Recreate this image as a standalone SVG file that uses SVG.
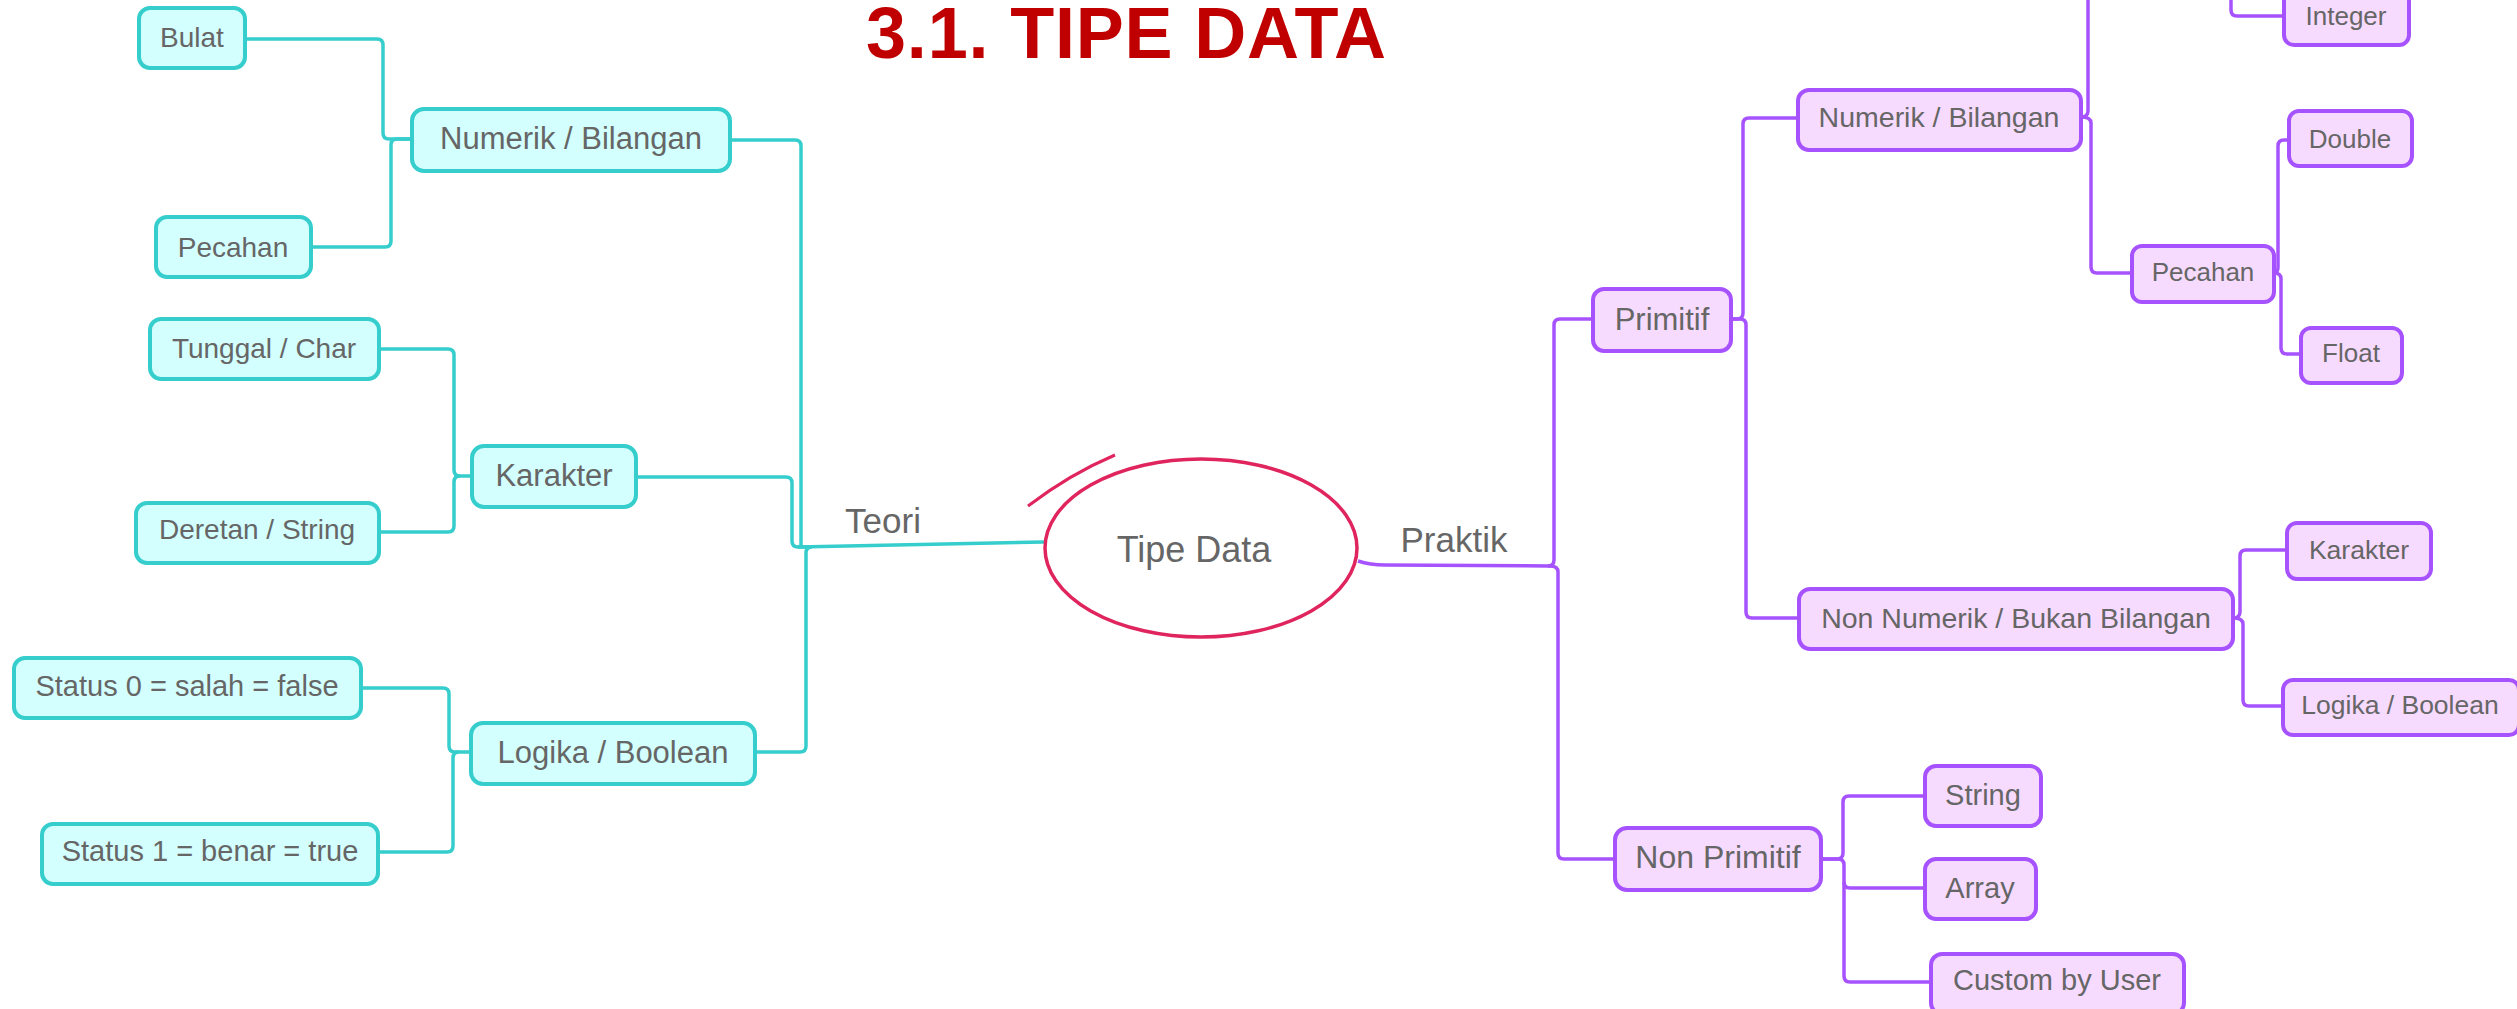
<svg xmlns="http://www.w3.org/2000/svg" width="2517" height="1009" viewBox="0 0 2517 1009">
<style>
.t rect{fill:#d3fffe;stroke:#36cdcd;stroke-width:4}
.p rect{fill:#f7dbff;stroke:#a653ff;stroke-width:4}
text{font-family:"Liberation Sans",Arial,sans-serif;fill:#666;text-anchor:middle}
.ct{fill:none;stroke:#36cdcd;stroke-width:3.5;stroke-linejoin:round}
.cp{fill:none;stroke:#a653ff;stroke-width:3.5;stroke-linejoin:round}
</style>
<rect width="2517" height="1009" fill="#fff"/>
<text x="866" y="58" font-size="72" font-weight="bold" style="fill:#c00000;text-anchor:start" textLength="520" lengthAdjust="spacing">3.1. TIPE DATA</text>

<g id="connectors">
<path class="ct" d="M245,39 H377 Q383,39 383,45 V133 Q383,139 389,139 H412"/>
<path class="ct" d="M311,247 H385 Q391,247 391,241 V145 Q391,139 397,139 H412"/>
<path class="ct" d="M730,140 H795 Q801,140 801,146 V547"/>
<path class="ct" d="M379,349 H448 Q454,349 454,355 V470 Q454,476 460,476 H472"/>
<path class="ct" d="M379,532 H448 Q454,532 454,526 V482 Q454,476 460,476"/>
<path class="ct" d="M636,477 H786 Q792,477 792,483 V541 Q792,547 798,547 H810"/>
<path class="ct" d="M361,688 H443 Q449,688 449,694 V746 Q449,752 455,752 H471"/>
<path class="ct" d="M378,852 H447 Q453,852 453,846 V758 Q453,752 459,752"/>
<path class="ct" d="M755,752 H800 Q806,752 806,746 V553 Q806,547 812,547"/>
<path class="ct" d="M798,547 L1044,542"/>

<path class="cp" d="M1358,561 Q1370,565 1385,565 L1550,566"/>
<path class="cp" d="M1548,566 Q1554,566 1554,560 V325 Q1554,319 1560,319 H1593"/>
<path class="cp" d="M1550,566 Q1558,566 1558,572 V853 Q1558,859 1564,859 H1615"/>
<path class="cp" d="M1731,319 H1737 Q1743,319 1743,313 V124 Q1743,118 1749,118 H1798"/>
<path class="cp" d="M1731,319 H1740 Q1746,319 1746,325 V612 Q1746,618 1752,618 H1799"/>
<path class="cp" d="M2081,117 Q2088,117 2088,111 V-5"/>
<path class="cp" d="M2081,117 Q2091,117 2091,123 V267 Q2091,273 2097,273 H2132"/>
<path class="cp" d="M2231,-5 V10 Q2231,16 2237,16 H2284"/>
<path class="cp" d="M2274,273 Q2278,273 2278,267 V146 Q2278,140 2284,140 H2289"/>
<path class="cp" d="M2274,273 Q2281,273 2281,279 V348 Q2281,354 2287,354 H2301"/>
<path class="cp" d="M2233,618 Q2240,618 2240,612 V556 Q2240,550 2246,550 H2287"/>
<path class="cp" d="M2233,618 Q2243,618 2243,624 V700 Q2243,706 2249,706 H2283"/>
<path class="cp" d="M1821,859 H1837 Q1843,859 1843,853 V802 Q1843,796 1849,796 H1925"/>
<path class="cp" d="M1821,859 H1838 Q1844,859 1844,865 V976 Q1844,982 1850,982 H1931"/>
<path class="cp" d="M1844,882 Q1844,888 1850,888 H1925"/>
</g>

<g id="root">
<ellipse cx="1201" cy="548" rx="156" ry="89" fill="none" stroke="#e0245e" stroke-width="3.5"/>
<path d="M1028,506 Q1070,474 1115,455" fill="none" stroke="#e0245e" stroke-width="3"/>
<text x="1194" y="562" font-size="36">Tipe Data</text>
</g>
<text id="lbl-teori" x="883" y="533" font-size="35">Teori</text>
<text id="lbl-praktik" x="1454" y="552" font-size="35">Praktik</text>

<g id="t-bulat" class="t"><rect x="139" y="8" width="106" height="60" rx="11"/><text x="192" y="47" font-size="28">Bulat</text></g>
<g id="t-pecahan" class="t"><rect x="156" y="217" width="155" height="60" rx="11"/><text x="233" y="257" font-size="28">Pecahan</text></g>
<g id="t-numerik" class="t"><rect x="412" y="109" width="318" height="62" rx="12"/><text x="571" y="149" font-size="31">Numerik / Bilangan</text></g>
<g id="t-tunggal" class="t"><rect x="150" y="319" width="229" height="60" rx="11"/><text x="264" y="358" font-size="28">Tunggal / Char</text></g>
<g id="t-deretan" class="t"><rect x="136" y="503" width="243" height="60" rx="11"/><text x="257" y="539" font-size="28">Deretan / String</text></g>
<g id="t-karakter" class="t"><rect x="472" y="446" width="164" height="61" rx="12"/><text x="554" y="486" font-size="31">Karakter</text></g>
<g id="t-status0" class="t"><rect x="14" y="658" width="347" height="60" rx="11"/><text x="187" y="696" font-size="29">Status 0 = salah = false</text></g>
<g id="t-logika" class="t"><rect x="471" y="723" width="284" height="61" rx="12"/><text x="613" y="763" font-size="31">Logika / Boolean</text></g>
<g id="t-status1" class="t"><rect x="42" y="824" width="336" height="60" rx="11"/><text x="210" y="861" font-size="29">Status 1 = benar = true</text></g>

<g id="p-integer" class="p"><rect x="2284" y="-12" width="125" height="57" rx="10"/><text x="2346" y="25" font-size="26">Integer</text></g>
<g id="p-numerik" class="p"><rect x="1798" y="90" width="283" height="60" rx="11"/><text x="1939" y="127" font-size="28.5">Numerik / Bilangan</text></g>
<g id="p-double" class="p"><rect x="2289" y="111" width="123" height="55" rx="10"/><text x="2350" y="148" font-size="26">Double</text></g>
<g id="p-pecahan" class="p"><rect x="2132" y="246" width="142" height="56" rx="10"/><text x="2203" y="281" font-size="26">Pecahan</text></g>
<g id="p-primitif" class="p"><rect x="1593" y="289" width="138" height="62" rx="11"/><text x="1662" y="330" font-size="31">Primitif</text></g>
<g id="p-float" class="p"><rect x="2301" y="328" width="101" height="55" rx="10"/><text x="2351" y="362" font-size="26">Float</text></g>
<g id="p-karakter" class="p"><rect x="2287" y="523" width="144" height="56" rx="10"/><text x="2359" y="559" font-size="26.5">Karakter</text></g>
<g id="p-nonnumerik" class="p"><rect x="1799" y="589" width="434" height="60" rx="11"/><text x="2016" y="628" font-size="28.5">Non Numerik / Bukan Bilangan</text></g>
<g id="p-logika" class="p"><rect x="2283" y="680" width="236" height="55" rx="10"/><text x="2400" y="714" font-size="26.5">Logika / Boolean</text></g>
<g id="p-string" class="p"><rect x="1925" y="766" width="116" height="60" rx="11"/><text x="1983" y="805" font-size="29">String</text></g>
<g id="p-nonprimitif" class="p"><rect x="1615" y="828" width="206" height="62" rx="12"/><text x="1718" y="868" font-size="32">Non Primitif</text></g>
<g id="p-array" class="p"><rect x="1925" y="859" width="111" height="60" rx="11"/><text x="1980" y="898" font-size="29">Array</text></g>
<g id="p-custom" class="p"><rect x="1931" y="954" width="253" height="60" rx="11"/><text x="2057" y="990" font-size="29">Custom by User</text></g>
</svg>
